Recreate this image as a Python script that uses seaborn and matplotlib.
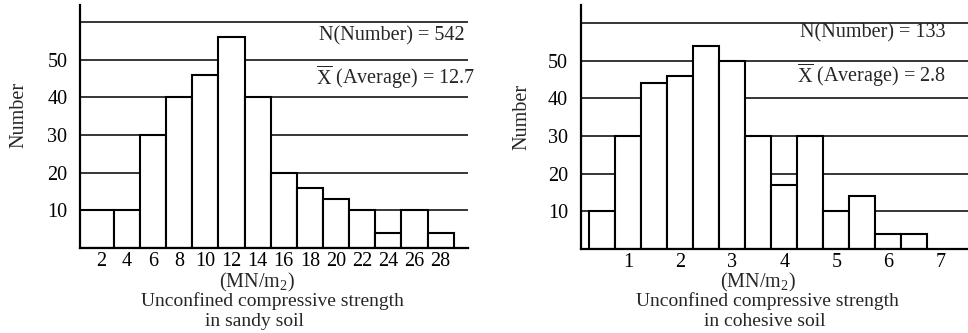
import matplotlib
matplotlib.use("Agg")
import matplotlib.pyplot as plt
import seaborn as sns

# ---- data ----
sandy_bins = [0, 3, 5, 7, 9, 11, 13, 15, 17, 19, 21, 23, 25, 27, 29]
sandy_centers = [2, 4, 6, 8, 10, 12, 14, 16, 18, 20, 22, 24, 26, 28]
sandy_counts = [10, 10, 30, 40, 46, 56, 40, 20, 16, 13, 10, 4, 10, 4]
sandy_xticks = [2, 4, 6, 8, 10, 12, 14, 16, 18, 20, 22, 24, 26, 28]

cohesive_bins = [0.25, 0.75, 1.25, 1.75, 2.25, 2.75, 3.25, 3.75, 4.25, 4.75, 5.25, 5.75, 6.25, 6.75]
cohesive_centers = [0.5, 1.0, 1.5, 2.0, 2.5, 3.0, 3.5, 4.0, 4.5, 5.0, 5.5, 6.0, 6.5]
cohesive_counts = [10, 30, 44, 46, 54, 50, 30, 17, 30, 10, 14, 4, 4]
cohesive_xticks = [1, 2, 3, 4, 5, 6, 7]

y_ticks = [10, 20, 30, 40, 50, 60]
y_ticklabels = ["10", "20", "30", "40", "50", ""]

sandy_note_n = "N(Number) = 542"
sandy_note_avg = r"$\overline{\mathrm{X}}$ (Average) = 12.7"
cohesive_note_n = "N(Number) = 133"
cohesive_note_avg = r"$\overline{\mathrm{X}}$ (Average) = 2.8"

sns.set_style("white")
plt.rcParams["font.family"] = ["Liberation Serif", "DejaVu Serif"]
plt.rcParams["mathtext.fontset"] = "custom"
plt.rcParams["mathtext.rm"] = "Liberation Serif"
plt.rcParams["mathtext.it"] = "Liberation Serif:italic"
plt.rcParams["mathtext.bf"] = "Liberation Serif:bold"
plt.rcParams["mathtext.default"] = "regular"

W, H = 968, 333
FS = 14.5
fig = plt.figure(figsize=(W / 100, H / 100), dpi=100)
fig.patch.set_facecolor("white")


def px_rect(x0, x1, ytop, ybot):
    return [x0 / W, 1 - ybot / H, (x1 - x0) / W, (ybot - ytop) / H]


ax1 = fig.add_axes(px_rect(80, 468, 5, 248))
ax2 = fig.add_axes(px_rect(580.7, 968, 5, 249))


def style_panel(ax, centers, counts, bins, xticks, xlim, ylim):
    sns.histplot(x=centers, weights=counts, bins=bins, stat="count",
                 color="white", edgecolor="black", linewidth=1.5, alpha=1,
                 ax=ax)
    ax.set_xlim(*xlim)
    ax.set_ylim(*ylim)
    ax.set_axisbelow(True)
    ax.set_yticks(y_ticks)
    ax.set_yticklabels(y_ticklabels)
    ax.set_xticks(xticks)
    ax.set_xticklabels([str(t) for t in xticks])
    ax.yaxis.grid(True, color="black", linewidth=1.1)
    ax.xaxis.grid(False)
    ax.tick_params(axis="both", length=0, labelsize=FS, colors="black")
    ax.tick_params(axis="y", pad=9)
    ax.tick_params(axis="x", pad=3)
    for s in ["top", "right"]:
        ax.spines[s].set_visible(False)
    for s in ["left", "bottom"]:
        ax.spines[s].set_color("black")
        ax.spines[s].set_linewidth(1.6)
    ax.set_xlabel("")
    ax.set_ylabel("Number", fontsize=FS)
    ax.set_facecolor("white")


style_panel(ax1, sandy_centers, sandy_counts, sandy_bins, sandy_xticks,
            (0.4, 30.1), (0, 64.5))
style_panel(ax2, cohesive_centers, cohesive_counts, cohesive_bins, cohesive_xticks,
            (0.09, 7.53), (0, 64.8))

ax1.yaxis.set_label_coords(-0.134, 0.547)
ax2.yaxis.set_label_coords(-0.128, 0.541)

ax1.text(0.992, 0.872, sandy_note_n, transform=ax1.transAxes, ha="right",
         va="center", fontsize=FS)
ax1.text(1.018, 0.704, sandy_note_avg, transform=ax1.transAxes, ha="right",
         va="center", fontsize=FS, clip_on=False)
ax2.text(0.943, 0.885, cohesive_note_n, transform=ax2.transAxes, ha="right",
         va="center", fontsize=FS)
ax2.text(0.943, 0.713, cohesive_note_avg, transform=ax2.transAxes, ha="right",
         va="center", fontsize=FS)


def ftext(x, y, s, fs=FS):
    fig.text(x / W, 1 - y / H, s, ha="center", va="center", fontsize=fs)


ftext(257, 282.5, r"(MN/m$_2$)")
ftext(272, 301.5, "Unconfined compressive strength", 14)
ftext(254, 321.5, "in sandy soil", 14)
ftext(758, 282.5, r"(MN/m$_2$)")
ftext(767, 301.5, "Unconfined compressive strength", 14)
ftext(765, 321.5, "in cohesive soil", 14)

fig.savefig("out.png", dpi=100, facecolor="white")
